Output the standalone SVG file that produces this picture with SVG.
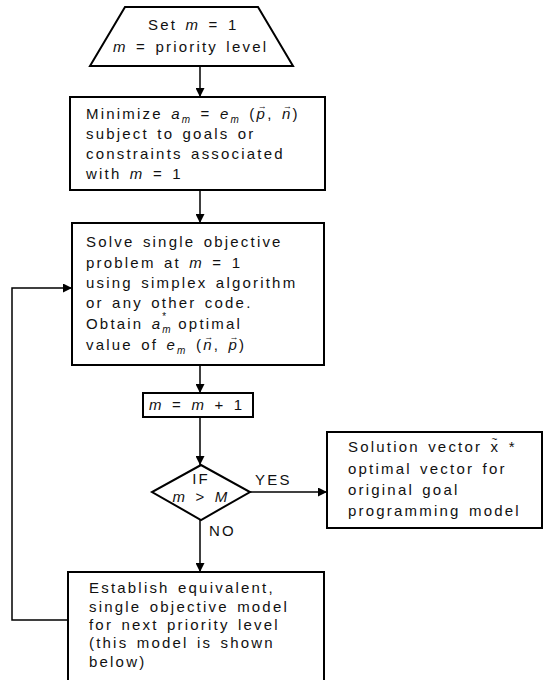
<svg xmlns="http://www.w3.org/2000/svg" width="544" height="680" viewBox="0 0 544 680">
<defs>
<marker id="ah" markerUnits="userSpaceOnUse" markerWidth="9" markerHeight="9" refX="9" refY="4.5" orient="auto">
<path d="M0,0 L9,4.5 L0,9 z" fill="#000"/>
</marker>
<style>
.shape{fill:#fff;stroke:#000;stroke-width:2}
.t{font-family:"Liberation Sans",Arial,sans-serif;font-size:15px;letter-spacing:2.2px;word-spacing:2px;fill:#111}
.i{font-style:italic}
.s{font-size:10px;font-style:italic}
.c{stroke:#000;stroke-width:1.5;fill:none}
.ar{font-size:9px;letter-spacing:0;font-style:normal}
</style>
</defs>
<rect width="544" height="680" fill="#fff"/>
<g id="connectors">
<line class="c" x1="200" y1="66" x2="200" y2="97" marker-end="url(#ah)"/>
<line class="c" x1="200" y1="190" x2="200" y2="223" marker-end="url(#ah)"/>
<line class="c" x1="200" y1="365" x2="200" y2="393" marker-end="url(#ah)"/>
<line class="c" x1="200" y1="417" x2="200" y2="465" marker-end="url(#ah)"/>
<line class="c" x1="250" y1="492" x2="327" y2="492" marker-end="url(#ah)"/>
<line class="c" x1="200" y1="520" x2="200" y2="572" marker-end="url(#ah)"/>
<polyline class="c" points="68,620 12,620 12,288 72,288" marker-end="url(#ah)"/>
<text class="t" x="255" y="485">YES</text>
<text class="t" x="209" y="536">NO</text>
</g>
<g id="start">
<polygon class="shape" points="125,7 258,7 293,66 90,66"/>
<text class="t" x="148" y="30">Set <tspan class="i">m</tspan> = 1</text>
<text class="t" x="113" y="52"><tspan class="i">m</tspan> = priority level</text>
</g>
<g id="minimize">
<rect class="shape" x="70" y="97" width="255" height="93"/>
<text class="t" x="86" y="119">Minimize <tspan class="i">a</tspan><tspan class="s" dy="4">m</tspan><tspan dy="-4"> = </tspan><tspan class="i">e</tspan><tspan class="s" dy="4">m</tspan><tspan dy="-4"> (</tspan><tspan class="i">p</tspan><tspan class="ar" dx="-9.5" dy="-10">→</tspan><tspan dx="0.5" dy="10">, </tspan><tspan class="i">n</tspan><tspan class="ar" dx="-9.5" dy="-10">→</tspan><tspan dx="0.5" dy="10">)</tspan></text>
<text class="t" x="86" y="139">subject to goals or</text>
<text class="t" x="86" y="159">constraints associated</text>
<text class="t" x="86" y="179">with  <tspan class="i">m</tspan> = 1</text>
</g>
<g id="solve">
<rect class="shape" x="72" y="223" width="252" height="142"/>
<text class="t" x="86" y="247">Solve single objective</text>
<text class="t" x="86" y="268">problem at <tspan class="i">m</tspan> = 1</text>
<text class="t" x="86" y="288">using simplex algorithm</text>
<text class="t" x="86" y="308">or any other code.</text>
<text class="t" x="86" y="329">Obtain <tspan class="i">a</tspan><tspan class="s" dy="4">m</tspan><tspan class="s" dx="-11" dy="-13">*</tspan><tspan dx="2" dy="9"> optimal</tspan></text>
<text class="t" x="86" y="350">value of <tspan class="i">e</tspan><tspan class="s" dy="4">m</tspan><tspan dy="-4"> (</tspan><tspan class="i">n</tspan><tspan class="ar" dx="-9.5" dy="-10">→</tspan><tspan dx="0.5" dy="10">, </tspan><tspan class="i">p</tspan><tspan class="ar" dx="-9.5" dy="-10">→</tspan><tspan dx="0.5" dy="10">)</tspan></text>
</g>
<g id="increment">
<rect class="shape" x="143" y="393" width="110" height="24"/>
<text class="t" x="149" y="410"><tspan class="i">m</tspan>  =  <tspan class="i">m</tspan> + 1</text>
</g>
<g id="decision">
<polygon class="shape" points="201,465 250,492 201,520 152,492"/>
<text class="t" x="201" y="484" text-anchor="middle">IF</text>
<text class="t" x="201" y="502" text-anchor="middle"><tspan class="i">m</tspan> &gt; <tspan class="i">M</tspan></text>
</g>
<g id="solution">
<rect class="shape" x="327" y="432" width="215" height="96"/>
<text class="t" x="348" y="452">Solution vector x<tspan font-size="10" letter-spacing="0" dx="-8.7" dy="-9">~</tspan><tspan dx="2.9" dy="9"> *</tspan></text>
<text class="t" x="348" y="474">optimal vector for</text>
<text class="t" x="348" y="495">original goal</text>
<text class="t" x="348" y="516">programming model</text>
</g>
<g id="establish">
<rect class="shape" x="68" y="572" width="256" height="120"/>
<text class="t" x="89" y="593">Establish equivalent,</text>
<text class="t" x="89" y="612">single objective model</text>
<text class="t" x="89" y="630">for next priority level</text>
<text class="t" x="89" y="648">(this model is shown</text>
<text class="t" x="89" y="667">below)</text>
</g>
</svg>
